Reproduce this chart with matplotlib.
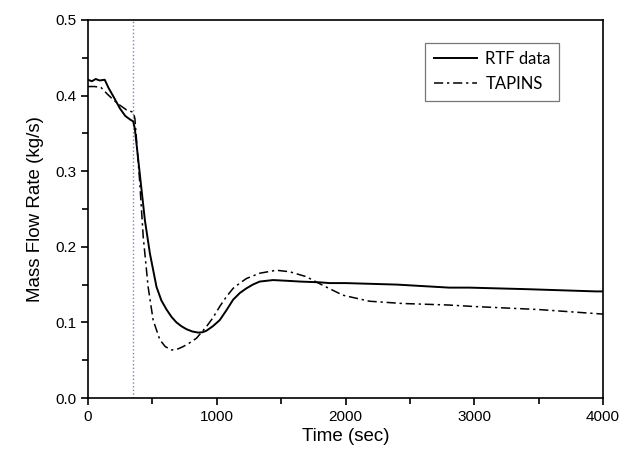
import numpy as np
import matplotlib
matplotlib.use('Agg')
from matplotlib import pyplot as plt
from matplotlib.ticker import MultipleLocator

rtf_t = [0, 30, 60, 90, 130, 160, 200, 248, 290, 330, 351, 364, 400, 442, 481,
         532, 570, 610, 650, 687, 725, 765, 810, 855, 890, 920, 970, 1023, 1075,
         1127, 1180, 1230, 1280, 1333, 1437, 1550, 1650, 1800, 1876, 2000,
         2400, 2806, 2961, 3400, 3943, 4000]
rtf_v = [0.421, 0.419, 0.422, 0.420, 0.421, 0.410, 0.398, 0.383, 0.373, 0.368,
         0.366, 0.356, 0.300, 0.235, 0.191, 0.147, 0.129, 0.117, 0.107, 0.100,
         0.095, 0.091, 0.088, 0.0865, 0.087, 0.089, 0.095, 0.103, 0.116, 0.130,
         0.139, 0.145, 0.150, 0.154, 0.156, 0.155, 0.154, 0.153, 0.152, 0.152,
         0.150, 0.146, 0.146, 0.144, 0.141, 0.141]

# TAPINS calculation
tap_t = [0, 50, 100, 150, 200, 250, 300, 351, 364, 400, 429, 467, 506, 558,
         600, 649, 700, 739, 790, 842, 920, 970, 1023, 1075, 1127, 1180, 1230,
         1333, 1463, 1566, 1695, 1824, 1979, 2186, 2444, 2800, 3000, 3500, 4000]
tap_v = [0.412, 0.412, 0.411, 0.402, 0.394, 0.387, 0.381, 0.378, 0.370, 0.290,
         0.213, 0.147, 0.103, 0.077, 0.068, 0.0635, 0.065, 0.068, 0.073, 0.079,
         0.0945, 0.106, 0.121, 0.134, 0.145, 0.152, 0.158, 0.165, 0.169, 0.167,
         0.1605, 0.149, 0.136, 0.128, 0.125, 0.123, 0.121, 0.117, 0.111]

event_t = 350

fig = plt.figure(figsize=(6.21, 4.55), dpi=100)
ax = fig.add_axes([88/621, 1-398/455, (603-88)/621, (398-20)/455])

ax.axvline(event_t, color='#a070c8', linestyle=':', linewidth=1.0)
ax.plot(rtf_t, rtf_v, color='black', linewidth=1.4, label='RTF data')
ax.plot(tap_t, tap_v, color='black', linewidth=1.1, dashes=(6, 2.5, 1.5, 2.5),
        label='TAPINS')

ax.set_xlim(0, 4000)
ax.set_ylim(0, 0.5)
ax.xaxis.set_major_locator(MultipleLocator(1000))
ax.xaxis.set_minor_locator(MultipleLocator(500))
ax.yaxis.set_major_locator(MultipleLocator(0.1))
ax.yaxis.set_minor_locator(MultipleLocator(0.05))
ax.yaxis.set_major_formatter(matplotlib.ticker.FormatStrFormatter('%.1f'))
ax.tick_params(which='both', direction='out', top=False, right=False,
               labelsize=11, width=1.2)
ax.tick_params(which='major', length=5)
ax.tick_params(which='minor', length=4)
for lbl in ax.get_xticklabels() + ax.get_yticklabels():
    lbl.set_family('Liberation Sans')
for s in ax.spines.values():
    s.set_linewidth(1.2)

ax.set_xlabel('Time (sec)', fontsize=13.5, family='Liberation Sans', labelpad=3)
ax.set_ylabel('Mass Flow Rate (kg/s)', fontsize=13.5, family='Liberation Sans',
              labelpad=8)

leg = ax.legend(loc='upper right', bbox_to_anchor=(0.915, 0.94),
                borderaxespad=0,
                prop={'family': 'Lato', 'size': 12}, frameon=True,
                fancybox=False, edgecolor='#555555', handlelength=2.6,
                borderpad=0.5, labelspacing=0.55, handletextpad=0.5)
leg.get_frame().set_linewidth(0.9)

plt.savefig('out.png', dpi=100)
